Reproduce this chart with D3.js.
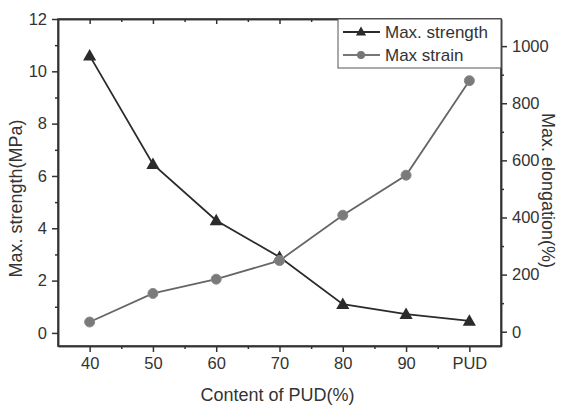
<!DOCTYPE html>
<html>
<head>
<meta charset="utf-8">
<script src="https://cdn.jsdelivr.net/npm/d3@7"></script>
<style>
  body { margin: 0; background: #fff; }
  svg { display: block; font-family: "Liberation Sans", Arial, sans-serif; }
  .axis path, .axis line { stroke: #333; stroke-width: 1.5; }
  .axis text { fill: #333; font-size: 16.5px; }
</style>
</head>
<body>
<svg id="chart" width="561" height="407"></svg>
<script>
const categories = ['40', '50', '60', '70', '80', '90', 'PUD']
const strength = [10.6, 6.45, 4.3, 2.9, 1.1, 0.72, 0.46]
const strain = [34, 134, 184, 249, 408, 548, 879]
const leftTicks = [0, 2, 4, 6, 8, 10, 12]
const rightTicks = [0, 200, 400, 600, 800, 1000]

const svg = d3.select('#chart')
const margin = {top: 19, right: 60, bottom: 61, left: 58}
const width = 561 - margin.left - margin.right
const height = 407 - margin.top - margin.bottom
const g = svg.append('g').attr('transform', `translate(${margin.left},${margin.top})`)

const x = d3.scaleLinear().domain([-0.5, categories.length - 0.5]).range([0, width])
const yL = d3.scaleLinear().domain([-0.5, 12]).range([height, 0])
const yR = d3.scaleLinear().domain([-50, 1095]).range([height, 0])

const idx = categories.map((d, i) => i)
const halves = idx.slice(0, -1).map(i => i + 0.5)

// ось x снизу
g.append('g').attr('class', 'axis').attr('transform', `translate(0,${height})`)
  .call(d3.axisBottom(x).tickValues(idx).tickFormat(i => categories[i]).tickSize(6).tickSizeOuter(0).tickPadding(5))
g.append('g').attr('class', 'axis').attr('transform', `translate(0,${height})`)
  .call(d3.axisBottom(x).tickValues(halves).tickFormat('').tickSize(3).tickSizeOuter(0))
// сверху, засечки внутрь
g.append('g').attr('class', 'axis')
  .call(d3.axisBottom(x).tickValues(idx).tickFormat('').tickSize(5).tickSizeOuter(0))
g.append('g').attr('class', 'axis')
  .call(d3.axisBottom(x).tickValues(halves).tickFormat('').tickSize(3).tickSizeOuter(0))

// левая ось
g.append('g').attr('class', 'axis')
  .call(d3.axisLeft(yL).tickValues(leftTicks).tickSize(6).tickSizeOuter(0).tickPadding(5))
g.append('g').attr('class', 'axis')
  .call(d3.axisLeft(yL).tickValues(d3.range(1, 12, 2)).tickFormat('').tickSize(3).tickSizeOuter(0))

// правая ось
g.append('g').attr('class', 'axis').attr('transform', `translate(${width},0)`)
  .call(d3.axisRight(yR).tickValues(rightTicks).tickFormat(d3.format('d')).tickSize(6).tickSizeOuter(0).tickPadding(5))
g.append('g').attr('class', 'axis').attr('transform', `translate(${width},0)`)
  .call(d3.axisRight(yR).tickValues(d3.range(100, 1100, 200)).tickFormat('').tickSize(3).tickSizeOuter(0))

// подписи осей
g.append('text')
  .attr('transform', `translate(${-36},${height / 2 + 16}) rotate(-90)`)
  .attr('text-anchor', 'middle').attr('fill', '#333').style('font-size', '18px')
  .text('Max. strength(MPa)')
g.append('text')
  .attr('transform', `translate(${width + 41},${height / 2 + 8}) rotate(90)`)
  .attr('text-anchor', 'middle').attr('fill', '#333').style('font-size', '18px')
  .text('Max. elongation(%)')
g.append('text')
  .attr('x', width / 2 - 2).attr('y', height + 55)
  .attr('text-anchor', 'middle').attr('fill', '#333').style('font-size', '18px')
  .text('Content of PUD(%)')

const tri = d3.symbol().type(d3.symbolTriangle)
const lineL = d3.line().x((d, i) => x(i)).y(d => yL(d))
const lineR = d3.line().x((d, i) => x(i)).y(d => yR(d))

// прочность
g.append('path').datum(strength).attr('d', lineL)
  .attr('fill', 'none').attr('stroke', '#2b2b2b').attr('stroke-width', 1.8)
g.selectAll('.tri').data(strength).enter().append('path')
  .attr('class', 'tri')
  .attr('d', tri.size(75))
  .attr('transform', (d, i) => `translate(${x(i)},${yL(d) + 1})`)
  .attr('fill', '#2b2b2b')

// удлинение
g.append('path').datum(strain).attr('d', lineR)
  .attr('fill', 'none').attr('stroke', '#666').attr('stroke-width', 1.8)
g.selectAll('.dot').data(strain).enter().append('circle')
  .attr('class', 'dot')
  .attr('cx', (d, i) => x(i)).attr('cy', d => yR(d)).attr('r', 5)
  .attr('fill', '#7a7a7a').attr('stroke', '#8a8a8a').attr('stroke-width', 1)

// рамка
g.append('rect').attr('width', width).attr('height', height)
  .attr('fill', 'none').attr('stroke', '#333').attr('stroke-width', 1.5)

// легенда
const legend = g.append('g').attr('transform', `translate(${280},0)`)
legend.append('rect').attr('width', width - 280).attr('height', 49)
  .attr('fill', '#fff').attr('stroke', '#555').attr('stroke-width', 1)
const items = [
  {name: 'Max. strength', color: '#2b2b2b', shape: 'tri'},
  {name: 'Max strain', color: '#777', shape: 'dot'}
]
items.forEach((it, i) => {
  const row = legend.append('g').attr('transform', `translate(0,${13 + i * 23})`)
  row.append('line').attr('x1', 5).attr('x2', 42).attr('stroke', it.color).attr('stroke-width', 1.8)
  if (it.shape === 'tri') {
    row.append('path').attr('d', tri.size(45)).attr('transform', 'translate(23,0.5)').attr('fill', it.color)
  } else {
    row.append('circle').attr('cx', 23).attr('r', 4).attr('fill', it.color)
  }
  row.append('text').attr('x', 47).attr('y', 6).attr('fill', '#333').style('font-size', '17px').text(it.name)
})
</script>
</body>
</html>
